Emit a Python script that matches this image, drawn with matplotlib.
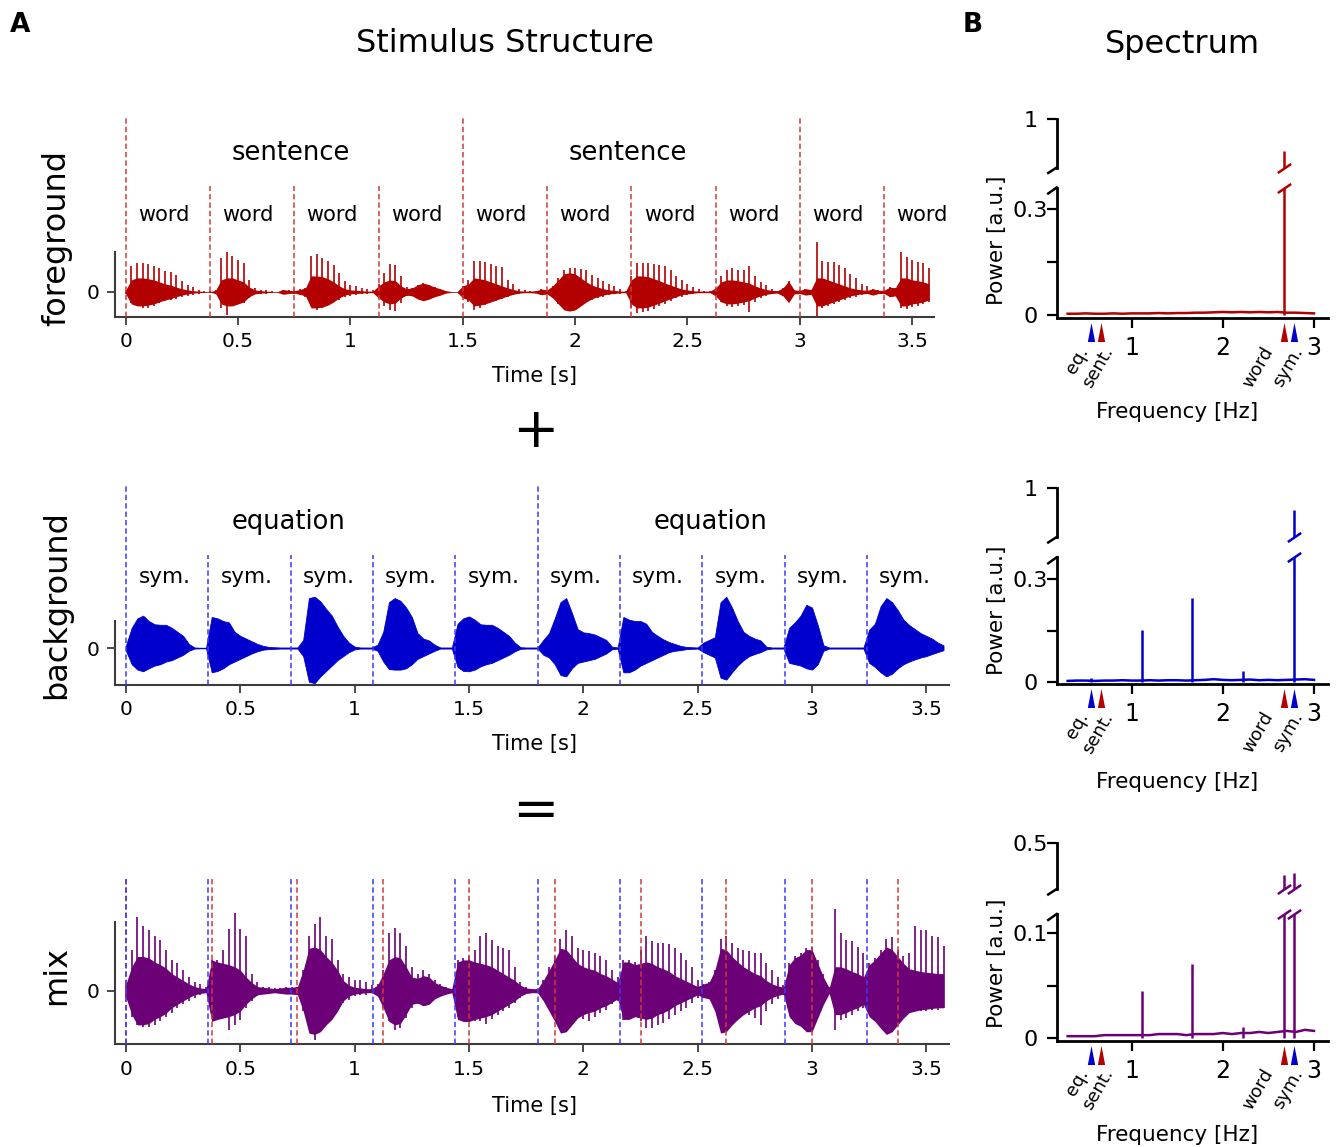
import numpy as np
import matplotlib
matplotlib.use('Agg')
from matplotlib import pyplot as plt
from matplotlib.ticker import FuncFormatter

# stimulus timing
word_dur = 0.375      # s per foreground word
sym_dur = 0.36        # s per background symbol
n_units = 10
env_step = 0.025      # s between envelope samples

# foreground envelope (one row per word): spike tops, dense core, lower spikes
fg_top = [
    0.05, 0.64, 0.72, 0.72, 0.71, 0.64, 0.60, 0.52, 0.49, 0.43, 0.27, 0.18, 0.12, 0.06, 0.02,
    0.02, 0.06, 0.85, 1.00, 0.90, 0.80, 0.72, 0.30, 0.10, 0.06, 0.04, 0.02, 0.01, 0.06, 0.05,
    0.04, 0.08, 0.10, 0.90, 0.96, 0.85, 0.77, 0.68, 0.48, 0.27, 0.18, 0.14, 0.10, 0.08, 0.04,
    0.20, 0.48, 0.71, 0.68, 0.39, 0.12, 0.10, 0.18, 0.22, 0.18, 0.12, 0.08, 0.03, 0.01, 0.01,
    0.15, 0.30, 0.77, 0.77, 0.74, 0.70, 0.66, 0.62, 0.30, 0.20, 0.08, 0.04, 0.02, 0.03, 0.07,
    0.05, 0.15, 0.35, 0.55, 0.60, 0.60, 0.58, 0.55, 0.42, 0.35, 0.27, 0.20, 0.15, 0.08, 0.02,
    0.40, 0.72, 0.72, 0.72, 0.70, 0.68, 0.64, 0.55, 0.40, 0.30, 0.20, 0.12, 0.08, 0.03, 0.02,
    0.10, 0.40, 0.55, 0.60, 0.55, 0.55, 0.66, 0.40, 0.25, 0.18, 0.08, 0.03, 0.10, 0.27, 0.05,
    0.04, 0.08, 0.06, 1.24, 0.77, 0.76, 0.74, 0.68, 0.60, 0.45, 0.35, 0.20, 0.15, 0.08, 0.04,
    0.04, 0.12, 0.10, 1.00, 0.88, 0.80, 0.76, 0.72, 0.60,
]
fg_core = [
    0.05, 0.30, 0.35, 0.35, 0.33, 0.30, 0.25, 0.20, 0.17, 0.12, 0.08, 0.05, 0.03, 0.02, 0.01,
    0.01, 0.04, 0.30, 0.35, 0.35, 0.30, 0.25, 0.12, 0.05, 0.03, 0.02, 0.01, 0.01, 0.06, 0.04,
    0.03, 0.06, 0.10, 0.40, 0.40, 0.38, 0.33, 0.25, 0.15, 0.08, 0.05, 0.04, 0.03, 0.02, 0.02,
    0.15, 0.25, 0.30, 0.28, 0.15, 0.08, 0.10, 0.18, 0.22, 0.18, 0.12, 0.08, 0.03, 0.01, 0.01,
    0.15, 0.20, 0.35, 0.33, 0.30, 0.25, 0.20, 0.15, 0.10, 0.06, 0.03, 0.02, 0.02, 0.03, 0.07,
    0.05, 0.15, 0.30, 0.45, 0.48, 0.45, 0.35, 0.25, 0.17, 0.12, 0.08, 0.05, 0.04, 0.02, 0.02,
    0.30, 0.40, 0.40, 0.38, 0.33, 0.28, 0.22, 0.17, 0.12, 0.07, 0.05, 0.03, 0.02, 0.02, 0.02,
    0.10, 0.25, 0.30, 0.30, 0.28, 0.25, 0.22, 0.15, 0.10, 0.06, 0.04, 0.03, 0.10, 0.27, 0.05,
    0.04, 0.08, 0.06, 0.35, 0.35, 0.30, 0.25, 0.20, 0.15, 0.10, 0.07, 0.05, 0.04, 0.08, 0.04,
    0.04, 0.12, 0.10, 0.35, 0.35, 0.30, 0.28, 0.25, 0.20,
]
fg_bot = [
    0.05, 0.28, 0.36, 0.40, 0.40, 0.36, 0.28, 0.23, 0.19, 0.17, 0.12, 0.09, 0.07, 0.04, 0.02,
    0.02, 0.05, 0.40, 0.57, 0.28, 0.30, 0.27, 0.15, 0.06, 0.05, 0.04, 0.02, 0.01, 0.06, 0.05,
    0.04, 0.08, 0.12, 0.36, 0.44, 0.40, 0.32, 0.23, 0.19, 0.13, 0.10, 0.07, 0.05, 0.04, 0.03,
    0.15, 0.36, 0.46, 0.48, 0.28, 0.10, 0.10, 0.18, 0.22, 0.18, 0.12, 0.08, 0.03, 0.01, 0.01,
    0.15, 0.25, 0.44, 0.40, 0.32, 0.26, 0.22, 0.18, 0.12, 0.08, 0.05, 0.03, 0.02, 0.03, 0.07,
    0.05, 0.12, 0.30, 0.36, 0.38, 0.36, 0.30, 0.25, 0.20, 0.15, 0.12, 0.08, 0.06, 0.04, 0.02,
    0.40, 0.52, 0.50, 0.48, 0.42, 0.35, 0.30, 0.22, 0.16, 0.12, 0.08, 0.05, 0.03, 0.02, 0.02,
    0.10, 0.25, 0.35, 0.38, 0.35, 0.32, 0.50, 0.25, 0.15, 0.10, 0.06, 0.03, 0.10, 0.23, 0.05,
    0.04, 0.08, 0.06, 0.59, 0.40, 0.35, 0.30, 0.25, 0.20, 0.15, 0.12, 0.08, 0.06, 0.08, 0.04,
    0.04, 0.12, 0.10, 0.40, 0.42, 0.38, 0.35, 0.30, 0.25,
]

# background envelope (rows of 0.25 s): upper and lower edge
bg_top = [
    0.10, 0.75, 1.10, 1.20, 1.00, 0.88, 0.86, 0.86, 0.75, 0.60,
    0.45, 0.15, 0.02, 0.01, 0.01, 1.15, 1.10, 1.00, 0.95, 0.60,
    0.45, 0.35, 0.25, 0.15, 0.08, 0.04, 0.03, 0.02, 0.02, 0.02,
    0.02, 0.30, 1.85, 1.90, 1.73, 1.45, 1.20, 0.80, 0.45, 0.20,
    0.05, 0.02, 0.02, 0.02, 0.12, 0.60, 1.70, 1.85, 1.75, 1.50,
    1.15, 0.55, 0.35, 0.28, 0.12, 0.02, 0.02, 0.02, 0.90, 1.10,
    1.17, 1.05, 0.88, 0.86, 0.86, 0.75, 0.60, 0.45, 0.20, 0.03,
    0.02, 0.02, 0.02, 0.30, 0.55, 1.10, 1.70, 1.85, 1.30, 0.70,
    0.58, 0.55, 0.50, 0.40, 0.30, 0.05, 0.02, 1.15, 1.05, 1.00,
    1.00, 0.90, 0.60, 0.45, 0.32, 0.22, 0.15, 0.08, 0.04, 0.03,
    0.02, 0.20, 0.30, 0.40, 1.70, 1.90, 1.50, 1.00, 0.60, 0.45,
    0.35, 0.28, 0.05, 0.02, 0.02, 0.02, 0.75, 0.95, 1.20, 1.60,
    1.50, 0.85, 0.10, 0.02, 0.02, 0.02, 0.02, 0.02, 0.02, 0.02,
    0.68, 0.90, 1.55, 1.85, 1.70, 1.40, 1.05, 0.85, 0.70, 0.55,
    0.45, 0.35, 0.20, 0.10,
]
bg_bot = [
    0.10, 0.60, 0.80, 0.86, 0.75, 0.65, 0.60, 0.50, 0.45, 0.35,
    0.25, 0.10, 0.02, 0.01, 0.01, 0.90, 0.85, 0.75, 0.60, 0.50,
    0.40, 0.30, 0.20, 0.12, 0.06, 0.04, 0.03, 0.02, 0.02, 0.02,
    0.02, 0.30, 1.25, 1.30, 1.05, 0.85, 0.65, 0.45, 0.30, 0.15,
    0.05, 0.02, 0.02, 0.02, 0.10, 0.50, 0.78, 0.80, 0.80, 0.75,
    0.60, 0.40, 0.30, 0.20, 0.10, 0.02, 0.02, 0.02, 0.70, 0.85,
    0.86, 0.80, 0.68, 0.60, 0.55, 0.45, 0.35, 0.25, 0.12, 0.03,
    0.02, 0.02, 0.02, 0.25, 0.35, 0.60, 1.00, 1.05, 0.75, 0.55,
    0.50, 0.45, 0.40, 0.30, 0.20, 0.05, 0.02, 0.90, 0.90, 0.80,
    0.65, 0.55, 0.45, 0.35, 0.25, 0.15, 0.10, 0.08, 0.04, 0.03,
    0.02, 0.15, 0.25, 0.35, 1.10, 1.17, 0.90, 0.65, 0.45, 0.30,
    0.22, 0.15, 0.05, 0.02, 0.02, 0.02, 0.55, 0.60, 0.65, 0.75,
    0.80, 0.60, 0.10, 0.02, 0.02, 0.02, 0.02, 0.02, 0.02, 0.02,
    0.55, 0.70, 0.90, 1.05, 0.95, 0.75, 0.60, 0.50, 0.42, 0.35,
    0.30, 0.22, 0.15, 0.08,
]

# mix envelope (rows of 0.25 s)
mix_top = [
    0.10, 0.60, 1.08, 0.95, 0.89, 0.80, 0.74, 0.60, 0.45, 0.40,
    0.30, 0.20, 0.12, 0.10, 0.05, 0.45, 0.45, 0.60, 0.90, 1.13,
    0.90, 0.80, 0.25, 0.12, 0.06, 0.05, 0.04, 0.04, 0.05, 0.05,
    0.06, 0.30, 0.80, 0.98, 1.08, 0.80, 0.75, 0.45, 0.25, 0.20,
    0.15, 0.15, 0.12, 0.08, 0.10, 0.30, 0.84, 0.91, 0.84, 0.65,
    0.35, 0.25, 0.30, 0.25, 0.15, 0.10, 0.06, 0.03, 0.45, 0.48,
    0.50, 0.60, 0.80, 0.84, 0.74, 0.65, 0.62, 0.60, 0.35, 0.12,
    0.06, 0.03, 0.03, 0.15, 0.35, 0.50, 0.75, 0.89, 0.80, 0.62,
    0.60, 0.58, 0.55, 0.50, 0.45, 0.30, 0.20, 0.45, 0.45, 0.42,
    0.60, 0.80, 0.72, 0.70, 0.70, 0.68, 0.62, 0.55, 0.45, 0.35,
    0.15, 0.10, 0.12, 0.30, 0.75, 0.80, 0.70, 0.62, 0.60, 0.58,
    0.55, 0.55, 0.40, 0.30, 0.20, 0.08, 0.40, 0.50, 0.55, 0.62,
    0.64, 0.45, 0.25, 0.05, 1.20, 0.84, 0.74, 0.72, 0.64, 0.55,
    0.40, 0.48, 0.60, 0.75, 0.79, 0.60, 0.50, 0.55, 0.94, 0.89,
    0.89, 0.80, 0.78, 0.65,
]
mix_core = [
    0.10, 0.35, 0.50, 0.50, 0.48, 0.42, 0.38, 0.33, 0.25, 0.20,
    0.15, 0.10, 0.06, 0.04, 0.03, 0.45, 0.42, 0.40, 0.38, 0.35,
    0.30, 0.20, 0.12, 0.06, 0.05, 0.04, 0.03, 0.04, 0.05, 0.05,
    0.06, 0.30, 0.62, 0.64, 0.60, 0.50, 0.42, 0.30, 0.15, 0.08,
    0.05, 0.04, 0.03, 0.03, 0.08, 0.25, 0.45, 0.50, 0.48, 0.35,
    0.20, 0.18, 0.22, 0.20, 0.12, 0.08, 0.05, 0.03, 0.42, 0.45,
    0.45, 0.42, 0.40, 0.38, 0.35, 0.30, 0.25, 0.20, 0.15, 0.08,
    0.04, 0.03, 0.03, 0.15, 0.30, 0.45, 0.62, 0.60, 0.50, 0.40,
    0.35, 0.32, 0.30, 0.25, 0.22, 0.17, 0.12, 0.42, 0.42, 0.38,
    0.40, 0.42, 0.40, 0.35, 0.32, 0.28, 0.22, 0.18, 0.14, 0.10,
    0.06, 0.10, 0.12, 0.30, 0.62, 0.60, 0.50, 0.42, 0.35, 0.30,
    0.25, 0.22, 0.15, 0.10, 0.07, 0.05, 0.38, 0.48, 0.52, 0.60,
    0.60, 0.40, 0.20, 0.04, 0.35, 0.35, 0.32, 0.28, 0.25, 0.20,
    0.38, 0.45, 0.55, 0.64, 0.60, 0.50, 0.40, 0.32, 0.30, 0.28,
    0.27, 0.26, 0.25, 0.25,
]
mix_bot = [
    0.10, 0.38, 0.50, 0.53, 0.53, 0.50, 0.45, 0.38, 0.33, 0.26,
    0.20, 0.15, 0.10, 0.07, 0.04, 0.35, 0.38, 0.40, 0.58, 0.50,
    0.43, 0.25, 0.15, 0.08, 0.05, 0.04, 0.03, 0.04, 0.05, 0.05,
    0.06, 0.30, 0.53, 0.72, 0.55, 0.45, 0.40, 0.25, 0.18, 0.13,
    0.08, 0.07, 0.06, 0.04, 0.08, 0.25, 0.45, 0.58, 0.55, 0.40,
    0.25, 0.20, 0.22, 0.20, 0.12, 0.08, 0.05, 0.03, 0.38, 0.42,
    0.43, 0.45, 0.45, 0.48, 0.42, 0.35, 0.30, 0.25, 0.18, 0.10,
    0.05, 0.03, 0.03, 0.12, 0.25, 0.33, 0.43, 0.43, 0.42, 0.40,
    0.42, 0.45, 0.38, 0.32, 0.28, 0.20, 0.15, 0.43, 0.40, 0.38,
    0.45, 0.55, 0.55, 0.50, 0.47, 0.42, 0.35, 0.30, 0.25, 0.18,
    0.10, 0.10, 0.10, 0.25, 0.43, 0.45, 0.42, 0.38, 0.35, 0.35,
    0.40, 0.50, 0.30, 0.20, 0.12, 0.06, 0.25, 0.28, 0.28, 0.30,
    0.30, 0.28, 0.15, 0.04, 0.58, 0.43, 0.40, 0.35, 0.30, 0.25,
    0.30, 0.32, 0.38, 0.43, 0.48, 0.40, 0.35, 0.32, 0.30, 0.30,
    0.30, 0.28, 0.28, 0.25,
]

# spectra: noise floor on a 0.1 Hz grid (0.3 .. 3.0 Hz) plus discrete peaks
floor_freq = np.round(np.arange(0.3, 3.05, 0.1), 2)
fg_floor = [0.003, 0.003, 0.004, 0.003, 0.003, 0.004, 0.003, 0.004, 0.004, 0.004,
            0.005, 0.004, 0.005, 0.005, 0.006, 0.006, 0.007, 0.008, 0.007, 0.008,
            0.007, 0.008, 0.007, 0.008, 0.006, 0.006, 0.005, 0.004]
bg_floor = [0.004, 0.005, 0.005, 0.004, 0.005, 0.005, 0.006, 0.005, 0.005, 0.006,
            0.005, 0.006, 0.006, 0.005, 0.006, 0.007, 0.009, 0.007, 0.006, 0.007,
            0.008, 0.006, 0.007, 0.006, 0.007, 0.008, 0.009, 0.007]
mix_floor = [0.002, 0.002, 0.002, 0.002, 0.003, 0.003, 0.003, 0.003, 0.003, 0.003,
             0.004, 0.004, 0.004, 0.003, 0.004, 0.004, 0.004, 0.005, 0.004, 0.005,
             0.005, 0.006, 0.005, 0.006, 0.007, 0.006, 0.008, 0.007]
fg_peak_f = [2.667]
fg_peak_p = [0.667]
bg_peak_f = [0.556, 1.111, 1.667, 2.222, 2.778]
bg_peak_p = [0.012, 0.151, 0.246, 0.034, 0.780]
mix_peak_f = [1.111, 1.667, 2.222, 2.667, 2.778]
mix_peak_p = [0.045, 0.0705, 0.0105, 0.326, 0.337]

cue_freq = [0.556, 0.667, 2.667, 2.778]
cue_names = ['eq.', 'sent.', 'word', 'sym.']

RED = '#b30000'
BLUE = '#0000cc'
PURPLE = '#6b0077'
RED_DASH = '#d03a3a'
BLUE_DASH = '#3a3aff'
cue_colors = [BLUE, RED, RED, BLUE]

W, H = 1341, 1147
fig = plt.figure(figsize=(W / 100, H / 100), dpi=100)


def px_axes(left, top, right, bottom):
    return fig.add_axes([left / W, 1 - bottom / H, (right - left) / W, (bottom - top) / H])


def ax_px(ax):
    bb = ax.get_position()
    return bb.width * W, bb.height * H


def wave_axes(box, xlim, ylim):
    ax = px_axes(*box)
    ax.patch.set_visible(False)
    ax.set_xlim(xlim)
    ax.set_ylim(ylim)
    ax.spines[['top', 'right']].set_visible(False)
    for s in ('left', 'bottom'):
        ax.spines[s].set_linewidth(1.5)
        ax.spines[s].set_color('#3c3c3c')
    ax.spines['left'].set_bounds(ylim[0], 1.0)
    ax.set_yticks([0])
    ax.set_xticks(np.arange(0, 3.51, 0.5))
    ax.xaxis.set_major_formatter(FuncFormatter(lambda v, _: f'{v:g}'))
    ax.tick_params(labelsize=14.5, length=6, width=1.3, color='#3c3c3c', pad=5)
    return ax


def dashed(ax, x, y0, y1, color):
    ax.plot([x, x], [y0, y1], color=color, lw=1.1, ls=(0, (3.5, 2)), zorder=4)


t_env = np.arange(len(fg_top)) * env_step
edges_word = np.arange(n_units) * word_dur
edges_sym = np.arange(n_units) * sym_dur

# foreground
fg_ylim = (-0.62, 4.375)
ax = wave_axes((114.7, 117, 934, 316.7), (-0.049, 3.597), fg_ylim)
ax.fill_between(t_env, -np.array(fg_core), fg_core, color=RED, lw=0)
ax.vlines(t_env, -np.array(fg_bot), fg_top, color=RED, lw=1.2)
for k, x in enumerate(edges_word):
    top = fg_ylim[1] if k % 4 == 0 else 2.65
    dashed(ax, x, fg_ylim[0], top, RED_DASH)
    ax.text(x + 0.055, 1.93, 'word', ha='left', va='center', fontsize=15)
for x in (0.0, 4 * word_dur):
    ax.text(x + 0.47, 3.475, 'sentence', ha='left', va='center', fontsize=18.5)

# background
bg_ylim = (-1.37, 6.04)
ax = wave_axes((115, 485, 949, 685), (-0.048, 3.599), bg_ylim)
ax.fill_between(t_env, -np.array(bg_bot), bg_top, color=BLUE, lw=0.6)
for k, x in enumerate(edges_sym):
    top = bg_ylim[1] if k % 5 == 0 else 3.45
    dashed(ax, x, bg_ylim[0], top, BLUE_DASH)
    ax.text(x + 0.054, 2.63, 'sym.', ha='left', va='center', fontsize=15.5)
for x in (0.462, 2.306):
    ax.text(x, 4.67, 'equation', ha='left', va='center', fontsize=18.5)

# mix
mix_ylim = (-0.784, 1.677)
ax = wave_axes((115, 876, 949, 1044.3), (-0.048, 3.599), mix_ylim)
ax.fill_between(t_env, -np.array(mix_core), mix_core, color=PURPLE, lw=0)
ax.vlines(t_env, -np.array(mix_bot), mix_top, color=PURPLE, lw=1.2)
for x in edges_word:
    dashed(ax, x, mix_ylim[0], mix_ylim[1], RED_DASH)
for x in edges_sym:
    dashed(ax, x, mix_ylim[0], mix_ylim[1], BLUE_DASH)

for y in (376, 744, 1106):
    fig.text(534 / W, 1 - y / H, 'Time [s]', ha='center', va='center', fontsize=15)
for y, name in ((238, 'foreground'), (605, 'background'), (975, 'mix')):
    fig.text(57 / W, 1 - y / H, name, rotation=90, ha='center', va='center', fontsize=23)
fig.text(535 / W, 1 - 432 / H, '+', ha='center', va='center', fontsize=40)
fig.text(535 / W, 1 - 812 / H, '=', ha='center', va='center', fontsize=40)

fig.text(505 / W, 1 - 43 / H, 'Stimulus Structure', ha='center', va='center', fontsize=23)
fig.text(1182 / W, 1 - 45 / H, 'Spectrum', ha='center', va='center', fontsize=23)
fig.text(20 / W, 1 - 25 / H, 'A', ha='center', va='center', fontsize=19, fontweight='bold')
fig.text(973 / W, 1 - 25 / H, 'B', ha='center', va='center', fontsize=19, fontweight='bold')

slash = [(-1, -0.68), (1, 0.68)]
tri = [(-0.385, -1), (0.385, -1), (0, 1)]
cue_label_x = [0.565, 0.839, 2.592, 2.921]


def spectrum(upper_box, lower_box, upper_lim, lower_lim, lower_ticks,
             color, floor, peak_f, peak_p, label_y, xlabel_y):
    up = px_axes(*upper_box)
    lo = px_axes(*lower_box)
    for a in (up, lo):
        a.patch.set_visible(False)
        a.plot(floor_freq, floor, color=color, lw=1.8)
        a.vlines(peak_f, 0, peak_p, color=color, lw=1.8)
        a.set_xlim(0.18, 3.15)
        a.spines[['top', 'right']].set_visible(False)
        a.spines['left'].set_linewidth(2)
        a.spines['bottom'].set_linewidth(2)
        a.tick_params(axis='y', length=7, width=1.6, labelsize=16, pad=12)
    up.set_ylim(upper_lim)
    lo.set_ylim(lower_lim)
    up.spines['bottom'].set_visible(False)
    up.set_xticks([])
    up.set_yticks([upper_lim[1]])
    up.set_yticklabels([f'{upper_lim[1]:g}'])
    lo.set_yticks(lower_ticks)
    lo.set_yticklabels(['0', '', f'{lower_ticks[2]:g}'])
    for a in (up, lo):
        for lab in a.get_yticklabels():
            lab.set_horizontalalignment('center')
    lo.set_xticks([1, 2, 3])
    lo.tick_params(axis='x', length=7, width=1.6, labelsize=17, pad=6)

    # broken-axis marks on the spine
    w, h = ax_px(up)
    up.plot([0, -8.5 / w], [0, -5.5 / h], transform=up.transAxes, color='k',
            lw=1.8, clip_on=False)
    w, h = ax_px(lo)
    lo.plot([0, -8.5 / w], [1, 1 - 6 / h], transform=lo.transAxes, color='k',
            lw=1.8, clip_on=False)
    # broken-axis marks on peaks running off the lower axis
    for f, p in zip(peak_f, peak_p):
        if p > lower_lim[1]:
            for a, y in ((up, 0), (lo, 1)):
                a.plot([f], [y], transform=a.get_xaxis_transform(), marker=slash,
                       ms=9.6, mew=1.8, color=color, clip_on=False)

    # stimulus rate cues under the frequency axis
    for f, c in zip(cue_freq, cue_colors):
        lo.plot([f], [-14 / h], transform=lo.get_xaxis_transform(), marker=tri,
                ms=13.7, color=c, mec='none', clip_on=False)
    for x, name in zip(cue_label_x, cue_names):
        lo.text(x, -25 / h, name, rotation=60, ha='right', va='top', fontsize=13,
                transform=lo.get_xaxis_transform())

    fig.text(996.7 / W, 1 - label_y / H, 'Power [a.u.]', rotation=90,
             ha='center', va='center', fontsize=15.5)
    fig.text(1176.7 / W, 1 - xlabel_y / H, 'Frequency [Hz]',
             ha='center', va='center', fontsize=15.5)


spectrum((1056.7, 119.3, 1327.7, 167.5), (1056.7, 187.5, 1327.7, 318.3),
         (0.5, 1.0), (-0.01, 0.362), [0, 0.15, 0.3],
         RED, fg_floor, fg_peak_f, fg_peak_p, 240.5, 411.7)
spectrum((1056.7, 488.3, 1327.7, 537), (1056.7, 557.3, 1327.7, 684),
         (0.5, 1.0), (-0.005, 0.364), [0, 0.15, 0.3],
         BLUE, bg_floor, bg_peak_f, bg_peak_p, 610, 781.7)
spectrum((1056.7, 842.7, 1327.7, 889), (1056.7, 914, 1327.7, 1040.7),
         (0.25, 0.5), (-0.0023, 0.118), [0, 0.05, 0.1],
         PURPLE, mix_floor, mix_peak_f, mix_peak_p, 963, 1135)

plt.savefig('out.png', dpi=100)
